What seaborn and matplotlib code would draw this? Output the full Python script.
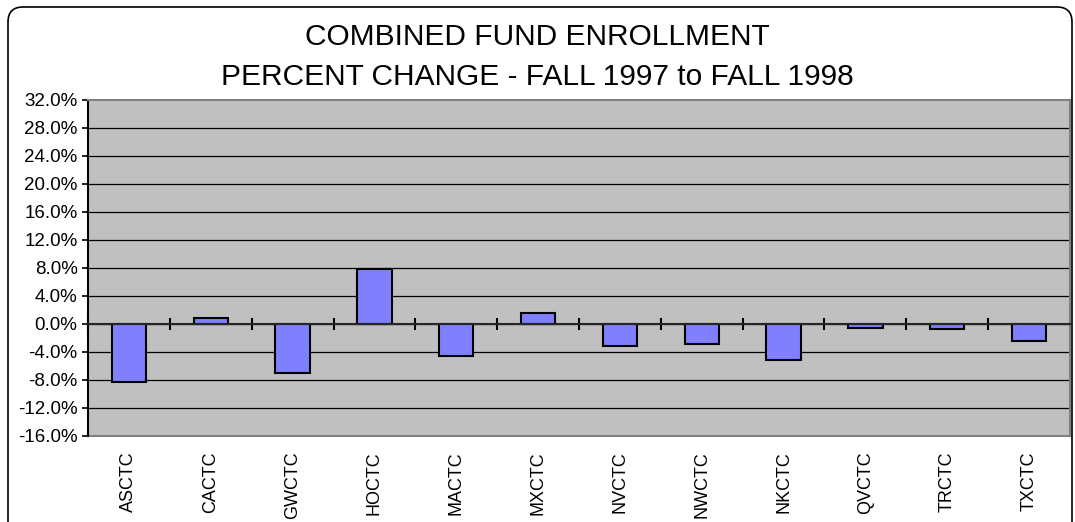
import numpy as np
import matplotlib
matplotlib.use("Agg")
import matplotlib.pyplot as plt
import seaborn as sns
from matplotlib.patches import FancyBboxPatch

# values (percent change)
centers = ["ASCTC", "CACTC", "GWCTC", "HOCTC", "MACTC", "MXCTC",
           "NVCTC", "NWCTC", "NKCTC", "QVCTC", "TRCTC", "TXCTC"]
pct_change = [-8.3, 0.9, -7.0, 7.9, -4.5, 1.6,
              -3.1, -2.8, -5.2, -0.5, -0.7, -2.4]
y_ticks = [-16, -12, -8, -4, 0, 4, 8, 12, 16, 20, 24, 28, 32]
title_lines = ["COMBINED FUND ENROLLMENT",
               "PERCENT CHANGE - FALL 1997 to FALL 1998"]

sns.set_style("white")
plt.rcParams['font.family'] = ['Liberation Sans', 'DejaVu Sans']
plt.rcParams['text.color'] = 'black'
plt.rcParams['xtick.color'] = 'black'
plt.rcParams['ytick.color'] = 'black'

fig = plt.figure(figsize=(10.75, 5.22), dpi=100)
ax = fig.add_axes([88 / 1075, 1 - 436 / 522, (1070 - 88) / 1075, (436 - 100) / 522])
ax.set_facecolor("#C0C0C0")

sns.barplot(x=centers, y=pct_change, color="#8080FF", saturation=1,
            edgecolor="black", linewidth=1.5, width=0.42, ax=ax, zorder=3)

ax.set_ylim(y_ticks[0], y_ticks[-1])
ax.set_xlim(-0.5, len(centers) - 0.5)
ax.set_yticks(y_ticks)
ax.set_yticklabels([f"{v:.1f}%" for v in y_ticks], fontsize=13.5)
ax.tick_params(axis="y", left=True, direction="out", length=4.5, width=1.2,
               color="black", labelcolor="black", pad=3)
for v in y_ticks[1:-1]:
    ax.axhline(v, color="black", lw=0.9, zorder=1)

# category axis crosses at zero, tick marks between categories
ax.spines["bottom"].set_position(("data", 0))
ax.spines["bottom"].set_linewidth(1.5)
ax.spines["bottom"].set_zorder(4)
ax.set_xticks(np.arange(len(centers) + 1) - 0.5)
ax.set_xticklabels([])
ax.tick_params(axis="x", bottom=True, direction="inout", length=9, width=1.5, color="black")
ax.set_xlabel("")
ax.set_ylabel("")
ax.spines["left"].set_color("black")
ax.spines["left"].set_linewidth(1.5)
for s in ["top", "right"]:
    ax.spines[s].set_visible(True)
    ax.spines[s].set_color("#808080")
    ax.spines[s].set_linewidth(1.5)

# labels sit at the bottom of the plot area
sec = ax.secondary_xaxis(0)
sec.set_xticks(np.arange(len(centers)))
sec.set_xticklabels(centers, rotation=90, fontsize=13, va="top", color="black")
sec.tick_params(length=0, pad=11)
sec.spines["bottom"].set_color("#808080")
sec.spines["bottom"].set_linewidth(1.5)

fig.text(0.5, 1 - 37 / 522, title_lines[0], ha="center", va="center", fontsize=21.5)
fig.text(0.5, 1 - 77 / 522, title_lines[1], ha="center", va="center", fontsize=21.5)

border = FancyBboxPatch((0.08, -0.3), 10.64, 5.45, boxstyle="round,pad=0,rounding_size=0.15",
                        transform=fig.dpi_scale_trans, facecolor="none",
                        edgecolor="black", linewidth=1.2)
fig.patches.append(border)

fig.savefig("out.png", dpi=100)
